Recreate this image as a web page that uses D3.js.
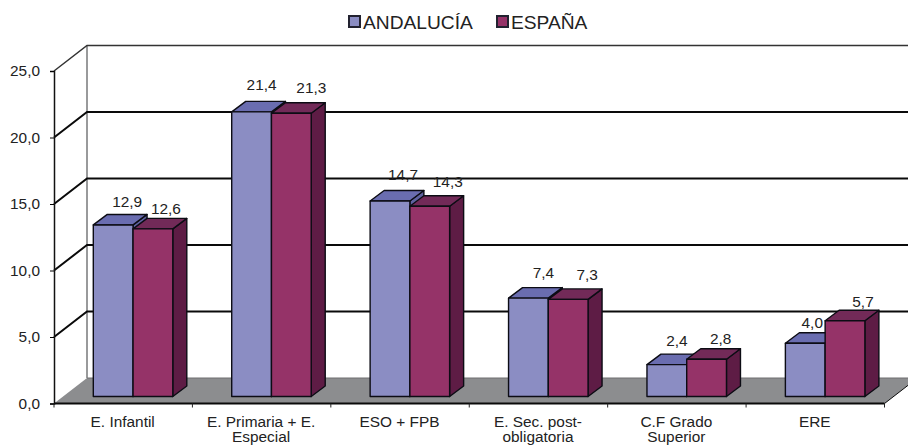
<!DOCTYPE html>
<html>
<head>
<meta charset="utf-8">
<script src="https://cdn.jsdelivr.net/npm/d3@7/dist/d3.min.js"></script>
<style>
html, body { margin: 0; padding: 0; background: #fff; }
svg { display: block; }
text { font-family: "Liberation Sans", Arial, sans-serif; fill: #222; }
</style>
</head>
<body>
<svg class="chart"></svg>
<script>
"use strict";

var width  = 908,
    height = 446;

var categories = ["E. Infantil", "E. Primaria + E. Especial", "ESO + FPB", "E. Sec. post-obligatoria", "C.F Grado Superior", "ERE"];
var category_lines = [["E. Infantil"], ["E. Primaria + E.", "Especial"], ["ESO + FPB"], ["E. Sec. post-", "obligatoria"], ["C.F Grado", "Superior"], ["ERE"]];
var series_names = ["ANDALUCÍA", "ESPAÑA"];
var andalucia = [12.9, 21.4, 14.7, 7.4, 2.4, 4.0];
var espana    = [12.6, 21.3, 14.3, 7.3, 2.8, 5.7];
var y_ticks = [0, 5, 10, 15, 20, 25];

// the labels were placed by hand in the original, so they need a nudge each
var label_dx = [[14, 13], [10, 20], [13, 18], [15, 19], [10, 14], [7, 18]];
var label_dy = [[-23, -20], [-27, -26], [-26, -25], [-25, -25], [-24, -21], [-21, -19]];

var colors = [
    {front: "#8b8dc3", top: "#6a6db0", side: "#5f62a0"},
    {front: "#953368", top: "#722a58", side: "#5e1c45"}
];

var comma = function(d) { return d.toFixed(1).replace(".", ","); };

var wall_dx = 33, wall_dy = -25.5;    // depth of the floor
var bar_dx = 14, bar_dy = -10.5;      // depth of a bar
var bar_inset_y = -7;                 // bars stand a little behind the front edge

var chart = d3.select(".chart")
              .attr("width", width)
              .attr("height", height)
              .attr("viewBox", "0 0 " + width + " " + height);

var x = d3.scaleBand().domain(categories).range([54, 884.5]);
var x_bar = d3.scaleBand().domain(d3.range(2)).range([39.3, 118.8]);
var y = d3.scaleLinear().domain([0, 25]).range([403.5, 71]);

// Floor
var floor_path = d3.path();
floor_path.moveTo(x.range()[0], y(0));
floor_path.lineTo(x.range()[1], y(0));
floor_path.lineTo(x.range()[1] + wall_dx, y(0) + wall_dy);
floor_path.lineTo(x.range()[0] + wall_dx, y(0) + wall_dy);
floor_path.closePath();
chart.append("path").attr("d", floor_path.toString()).attr("fill", "#8c8d8f");
chart.append("line")
     .attr("x1", x.range()[0] + wall_dx).attr("x2", width)
     .attr("y1", y(0) + wall_dy).attr("y2", y(0) + wall_dy)
     .attr("stroke", "#6e6f71").attr("stroke-width", 1);

// Back wall
chart.append("line")
     .attr("x1", x.range()[0] + wall_dx).attr("x2", x.range()[0] + wall_dx)
     .attr("y1", y(25) + wall_dy).attr("y2", y(0) + wall_dy)
     .attr("stroke", "#77787a").attr("stroke-width", 1.5);

// Gridlines
var grid = chart.append("g").attr("class", "grid");
grid.selectAll("path")
    .data(y_ticks.filter(function(d) { return d > 0; }))
    .enter().append("path")
        .attr("d", function(d) {
            return "M" + x.range()[0] + "," + y(d) +
                   "L" + (x.range()[0] + wall_dx) + "," + (y(d) + wall_dy) +
                   "L" + width + "," + (y(d) + wall_dy);
        })
        .attr("fill", "none")
        .attr("stroke", function(d) { return d == 25 ? "#333" : "#0a0a0a"; })
        .attr("stroke-width", function(d) { return d == 25 ? 1.5 : 2; });

// Axes
var y_axis = d3.axisLeft(y).tickValues(y_ticks).tickFormat(comma).tickSize(4).tickPadding(10);
var y_g = chart.append("g").attr("transform", "translate(" + x.range()[0] + ",0)").call(y_axis);
y_g.select(".domain").attr("stroke", "#111").attr("stroke-width", 1.5);
y_g.selectAll("text").style("font-size", "15.4px");

function addBar(group, bar_x, value, color) {
    var w = x_bar.bandwidth(),
        top = y(value) + bar_inset_y,
        bottom = y(0) + bar_inset_y;

    group.append("path")
         .attr("d", "M" + (bar_x + w) + "," + top + "l" + bar_dx + "," + bar_dy +
                    "V" + (bottom + bar_dy) + "L" + (bar_x + w) + "," + bottom + "Z")
         .attr("fill", color.side);
    group.append("path")
         .attr("d", "M" + bar_x + "," + top + "l" + bar_dx + "," + bar_dy +
                    "h" + w + "l" + (-bar_dx) + "," + (-bar_dy) + "Z")
         .attr("fill", color.top);
    group.append("rect")
         .attr("x", bar_x)
         .attr("y", top)
         .attr("width", w)
         .attr("height", bottom - top)
         .attr("fill", color.front);
    group.selectAll("path, rect")
         .attr("stroke", "#0c0c14")
         .attr("stroke-width", 1.4)
         .attr("stroke-linejoin", "round");
}

// Bars
var groups = chart.selectAll("g.group")
    .data(categories)
    .enter().append("g")
        .attr("class", "group")
        .attr("transform", function(d) { return "translate(" + x(d) + ",0)"; });

groups.each(function(d, i) {
    var group = d3.select(this);
    [andalucia, espana].forEach(function(values, s) {
        addBar(group.append("g"), x_bar(s), values[i], colors[s]);
    });
});

// Data labels
groups.each(function(d, i) {
    var group = d3.select(this);
    [andalucia, espana].forEach(function(values, s) {
        group.append("text")
             .attr("x", x_bar(s) + x_bar.bandwidth() / 2 + label_dx[i][s])
             .attr("y", y(values[i]) + bar_inset_y + label_dy[i][s])
             .attr("dy", ".35em")
             .attr("text-anchor", "middle")
             .style("font-size", "15.4px")
             .text(comma(values[i]));
    });
});

// Bottom axis
var x_g = chart.append("g").attr("transform", "translate(0," + y(0) + ")");
x_g.append("line")
   .attr("x1", x.range()[0]).attr("x2", x.range()[1])
   .attr("stroke", "#0a0a0a").attr("stroke-width", 2);
x_g.selectAll("line.tick")
   .data(categories.concat(["end"]))
   .enter().append("line")
       .attr("class", "tick")
       .attr("x1", function(d) { return d == "end" ? x.range()[1] : x(d); })
       .attr("x2", function(d) { return d == "end" ? x.range()[1] : x(d); })
       .attr("y2", 4)
       .attr("stroke", "#222").attr("stroke-width", 1);
x_g.append("line")
   .attr("x1", x.range()[1]).attr("x2", x.range()[1] + wall_dx)
   .attr("y2", wall_dy)
   .attr("stroke", "#0a0a0a").attr("stroke-width", 1);

var cat_labels = chart.selectAll("text.cat")
    .data(categories)
    .enter().append("text")
        .attr("class", "cat")
        .attr("text-anchor", "middle")
        .style("font-size", "15.4px");

// second line is squeezed a bit so its descenders stay inside the picture
cat_labels.each(function(d, i) {
    d3.select(this).selectAll("tspan")
      .data(category_lines[i])
      .enter().append("tspan")
          .attr("x", x(d) + x.bandwidth() / 2 - 0.5)
          .attr("y", function(t, j) { return 427 + j * 15.2; })
          .text(function(t) { return t; });
});

// Legend
var legend_x = [349, 497];
var legend = chart.selectAll("g.legend")
    .data(series_names)
    .enter().append("g")
        .attr("class", "legend")
        .attr("transform", function(d, i) { return "translate(" + legend_x[i] + ",16)"; });

legend.append("rect")
      .attr("width", 11).attr("height", 11)
      .attr("fill", function(d, i) { return colors[i].front; })
      .attr("stroke", "#222230").attr("stroke-width", 2);

legend.append("text")
      .attr("x", 14)
      .attr("y", 12.5)
      .style("font-size", "19.2px")
      .text(function(d) { return d; });
</script>
</body>
</html>
